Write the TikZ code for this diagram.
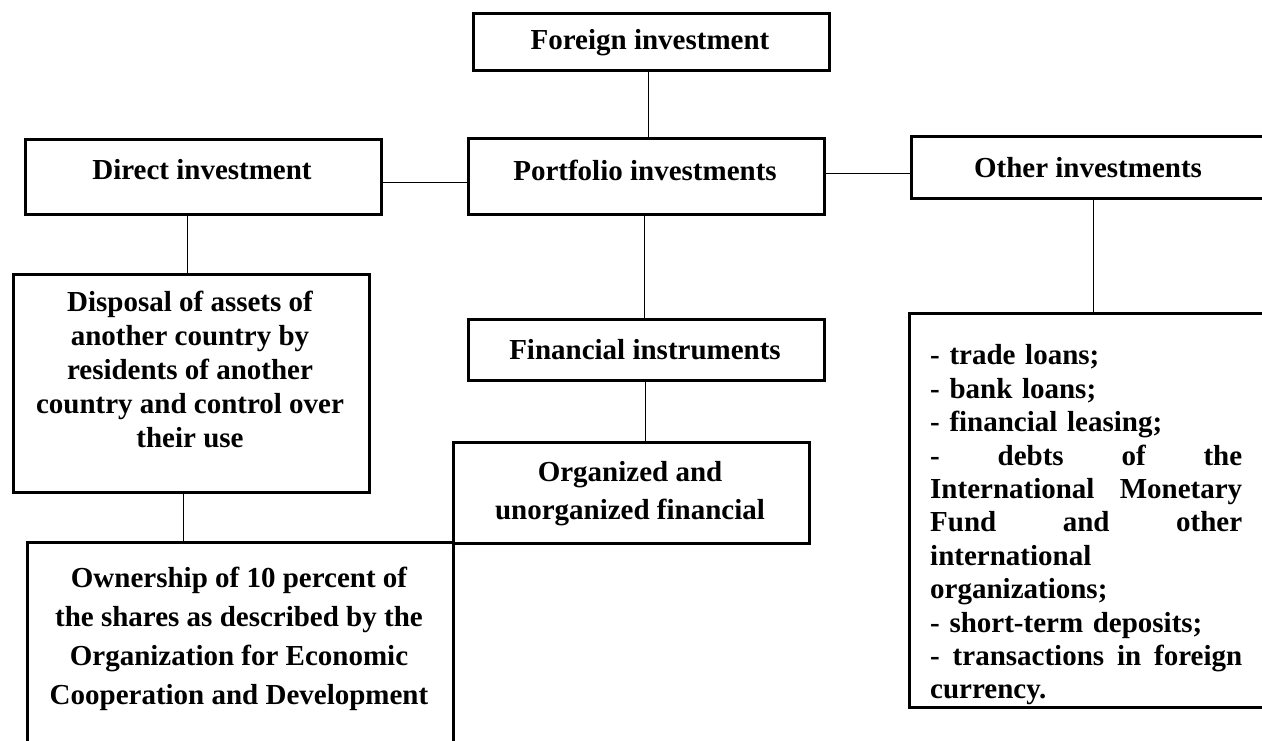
\documentclass[tikz,border=0pt]{standalone}
\usepackage{fontspec}
\setmainfont{Liberation Serif}
\usetikzlibrary{calc}
\newcommand{\jline}[1]{\leavevmode\hbox to 312pt{#1}}
\begin{document}
\begin{tikzpicture}[x=1pt,y=-1pt,
  box/.style={draw, line width=2.6pt, rectangle, inner sep=0pt, anchor=north west},
  conn/.style={line width=1.1pt},
  lbl/.style={font=\fontsize{29}{34}\selectfont\bfseries, align=center, inner sep=0pt}]
\useasboundingbox (0,0) rectangle (1262,740);
\fill[white] (0,0) rectangle (1262,740);
\clip (0,0) rectangle (1262,740);
% boxes
\node[box, minimum width=356pt, minimum height=57pt]  (foreign)   at (472,12)  {};
\node[box, minimum width=356pt, minimum height=76pt]  (portfolio) at (467,137) {};
\node[box, minimum width=356pt, minimum height=75pt]  (direct)    at (24,138)  {};
\node[box, minimum width=356pt, minimum height=62pt]  (other)     at (910,135) {};
\node[box, minimum width=356pt, minimum height=61pt]  (fi)        at (467,318) {};
\node[box, minimum width=356pt, minimum height=101pt] (org)       at (452,441) {};
\node[box, minimum width=356pt, minimum height=218pt] (disposal)  at (12,273)  {};
\node[box, minimum width=426pt, minimum height=230pt] (owner)     at (26,541)  {};
\node[box, minimum width=358pt, minimum height=394pt] (list)      at (908,312) {};
% texts
\node[lbl] (tforeign)   at (650,43)  {Foreign investment};
\node[lbl] (tportfolio) at (645,170) {Portfolio investments};
\node[lbl] (tdirect)    at (202,170) {Direct investment};
\node[lbl] (tother)     at (1088,168) {Other investments};
\node[lbl] (tfi)        at (645,350) {Financial instruments};
\node[lbl, font=\fontsize{29}{38}\selectfont\bfseries] (torg) at (630,494) {Organized and\\unorganized financial};
\node[lbl] (tdisposal)  at (190,369) {Disposal of assets of\\another country by\\residents of another\\country and control over\\their use};
\node[lbl, font=\fontsize{29}{39}\selectfont\bfseries] (towner) at (239,639) {Ownership of 10 percent of\\the shares as described by the\\Organization for Economic\\Cooperation and Development};
\node[lbl, anchor=west, align=left, text width=312pt, font=\fontsize{29}{33.4}\selectfont\bfseries] (tlist) at (930,525) {- trade loans;\\- bank loans;\\- financial leasing;\\\jline{-\hfill debts\hfill of\hfill the}\\\jline{International\hfill Monetary}\\\jline{Fund\hfill and\hfill other}\\international\\organizations;\\- short-term deposits;\\\jline{-\hfill transactions\hfill in\hfill foreign}\\currency.};
% connectors
\coordinate (c1) at ($(foreign.south)+(-3,0)$);
\draw[conn] (c1) -- (c1 |- portfolio.north);
\coordinate (h1) at ($(direct.east)+(0,5.5)$);
\draw[conn] (h1) -- (h1 -| portfolio.west);
\coordinate (h2) at ($(portfolio.east)+(0,-3)$);
\draw[conn] (h2) -- (h2 -| other.west);
\coordinate (c2) at ($(portfolio.south)+(-2,0)$);
\draw[conn] (c2) -- (c2 |- fi.north);
\coordinate (c3) at ($(fi.south)+(-1,0)$);
\draw[conn] (c3) -- (c3 |- org.north);
\coordinate (c4) at ($(direct.south)+(-16,0)$);
\draw[conn] (c4) -- (c4 |- disposal.north);
\coordinate (c5) at ($(disposal.south)+(-8,0)$);
\draw[conn] (c5) -- (c5 |- owner.north);
\coordinate (c6) at ($(other.south)+(4,0)$);
\draw[conn] (c6) -- (c6 |- list.north);
\end{tikzpicture}
\end{document}
